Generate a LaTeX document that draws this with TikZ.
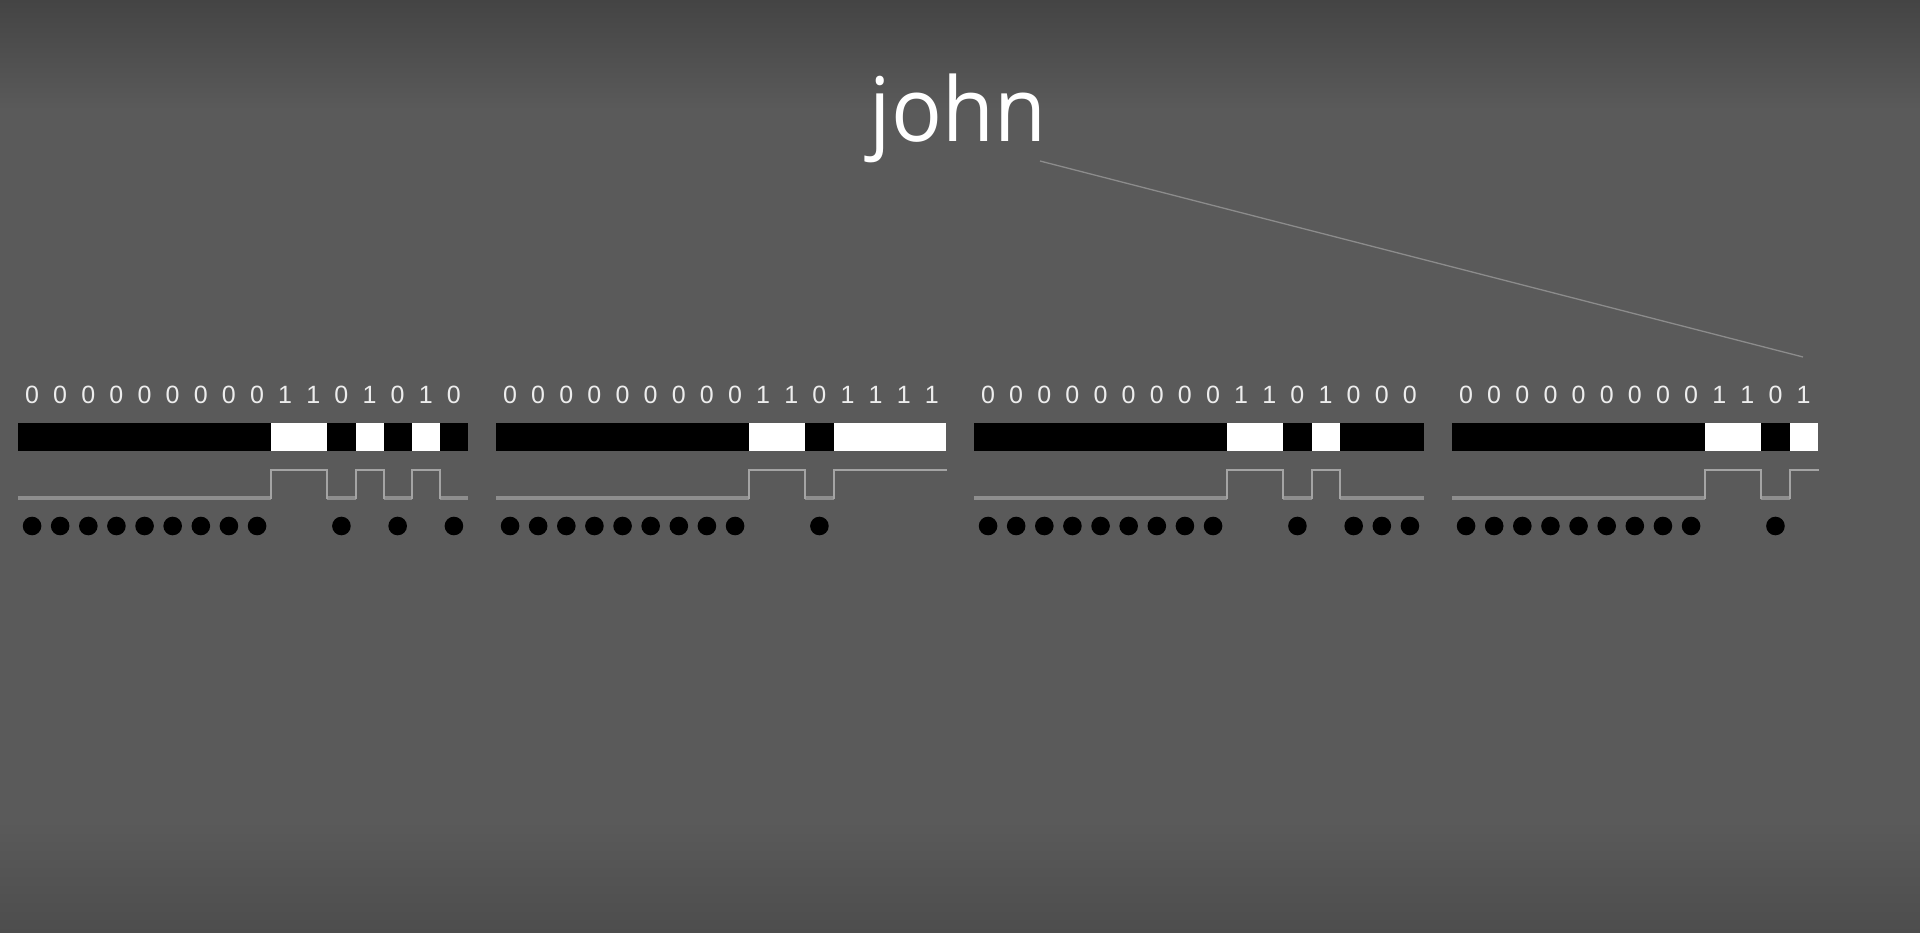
\documentclass[tikz,border=0pt]{standalone}
\usepackage{fontspec}
\setmainfont{Liberation Sans}
\newfontfamily\johnfont{Open Sans}
\definecolor{bg}{HTML}{5A5A5A}
\definecolor{bgtop}{HTML}{444444}
\definecolor{bgbot}{HTML}{4D4D4D}
\definecolor{wavehi}{HTML}{A4A4A4}
\definecolor{wavelo}{HTML}{8E8E8E}
\definecolor{linkc}{HTML}{8C8C8C}
\definecolor{digitc}{HTML}{EDEDED}
\newcommand{\bitword}[3]{%
  \fill[black] (#1,423) rectangle ++(#3*28.125,28);
  \foreach \b [count=\i from 0, remember=\b as \p (initially 0)] in {#2} {%
    \pgfmathsetmacro\xa{#1+\i*28.125}%
    \pgfmathsetmacro\xc{\xa+14.06}%
    \pgfmathsetmacro\xb{\xa+28.125}%
    \node[bitdigit] (d-#1-\i) at (\xc,395) {\b};
    \ifnum\b=1
      \fill[white] (\xa,423) rectangle (\xb,451);
      \draw[wavehigh] (\xa,470) -- (\xb,470);
    \else
      \draw[wavelow] (\xa,498) -- (\xb,498);
      \fill[black] (\xc,526) circle[radius=9.3];
    \fi
    \ifnum\b=\p\relax\else
      \draw[wavehigh] (\xa,470) -- (\xa,498);
    \fi
  }%
}
\begin{document}
\begin{tikzpicture}[x=1pt,y=-1pt,
  bitdigit/.style={text=digitc, font=\fontsize{25}{25}\selectfont, inner sep=0pt, anchor=center},
  wavehigh/.style={draw=wavehi, line width=2pt, line cap=rect},
  wavelow/.style={draw=wavelo, line width=3.2pt},
  linkline/.style={draw=linkc, line width=1.3pt},
  wordlabel/.style={text=white, font=\johnfont\fontsize{89}{89}\selectfont, inner sep=0pt, xscale=0.95}]
\useasboundingbox (0,0) rectangle (1920,933);
\fill[bg] (0,0) rectangle (1920,933);
\shade[top color=bgtop, bottom color=bg] (0,0) rectangle (1920,110);
\shade[top color=bg, bottom color=bgbot] (0,820) rectangle (1920,933);

\node[wordlabel, anchor=base] (john) at (958,142) {john};
\coordinate (jfoot) at (1040,161);
\coordinate (w4) at (1803,357);
\draw[linkline] (jfoot) -- (w4);

\bitword{18}{0,0,0,0,0,0,0,0,0,1,1,0,1,0,1,0}{16}
\bitword{496}{0,0,0,0,0,0,0,0,0,1,1,0,1,1,1,1}{16}
\bitword{974}{0,0,0,0,0,0,0,0,0,1,1,0,1,0,0,0}{16}
\bitword{1452}{0,0,0,0,0,0,0,0,0,1,1,0,1}{13}
\end{tikzpicture}
\end{document}
